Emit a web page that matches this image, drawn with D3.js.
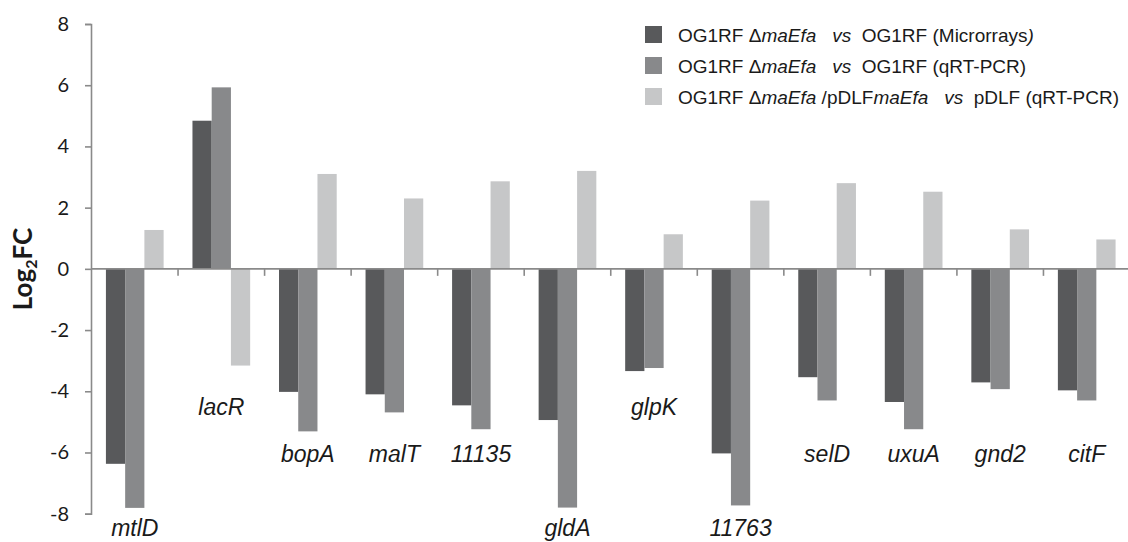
<!DOCTYPE html>
<html><head><meta charset="utf-8">
<script src="https://cdn.jsdelivr.net/npm/d3@7"></script>
<style>
html,body{margin:0;padding:0;background:#fff;}
svg text{white-space:pre;}
</style>
</head><body>
<svg id="chart" width="1128" height="542"></svg>
<script>
const categories = ["mtlD","lacR","bopA","malT","11135","gldA","glpK","11763","selD","uxuA","gnd2","citF"];
const microarray = [-6.37, 4.84, -4.02, -4.10, -4.46, -4.94, -3.34, -6.03, -3.54, -4.35, -3.71, -3.97];
const qrtpcr     = [-7.81, 5.93, -5.31, -4.69, -5.24, -7.80, -3.24, -7.73, -4.30, -5.24, -3.93, -4.30];
const complemented = [1.27, -3.16, 3.10, 2.30, 2.86, 3.20, 1.13, 2.23, 2.80, 2.52, 1.29, 0.96];
// label baseline level, in Log2FC units
const labelLevel = [-8.72, -4.78, -6.31, -6.31, -6.31, -8.72, -4.78, -8.72, -6.31, -6.31, -6.31, -6.31];
const yTicks = [-8, -6, -4, -2, 0, 2, 4, 6, 8];
const seriesKeys = ["micro","qpcr","comp"];
const seriesValues = {micro: microarray, qpcr: qrtpcr, comp: complemented};
const legendLabels = [
  [["OG1RF Δ",false],["maEfa",true],["   ",false],["vs",true],["  OG1RF (Microrrays",false],[")",true]],
  [["OG1RF Δ",false],["maEfa",true],["   ",false],["vs",true],["  OG1RF (qRT-PCR)",false]],
  [["OG1RF Δ",false],["maEfa",true],[" /pDLF",false],["maEfa",true],["   ",false],["vs",true],["  pDLF (qRT-PCR)",false]]
];
const colors = {micro:"#58595b", qpcr:"#88898b", comp:"#c6c7c8"};

const svg = d3.select("#chart");
const axisColor = "#8a8a8a";

const x = d3.scaleBand().domain(categories).range([91.5, 1130]).paddingInner(0).paddingOuter(0);
const xs = d3.scaleBand().domain(seriesKeys).range([x.bandwidth()/6, x.bandwidth()*5/6]).padding(0);
const y = d3.scaleLinear().domain([-8, 8]).range([513.7, 24]);

// bars
const data = categories.map((c,i)=>({cat:c, vals: seriesKeys.map(k=>({key:k, v:seriesValues[k][i]}))}));
const g = svg.append("g");
const groups = g.selectAll("g.grp").data(data).join("g")
  .attr("transform", d=>`translate(${x(d.cat)},0)`);
groups.selectAll("rect").data(d=>d.vals).join("rect")
  .attr("x", d=>xs(d.key))
  .attr("width", xs.bandwidth())
  .attr("y", d=>Math.min(y(d.v), y(0)))
  .attr("height", d=>Math.abs(y(d.v)-y(0)))
  .attr("fill", d=>colors[d.key]);

// y axis
const yAxis = d3.axisLeft(y).tickValues(yTicks).tickSize(6).tickPadding(16).tickFormat(d3.format("d"));
const ya = svg.append("g").attr("transform","translate(91,0)").call(yAxis);
ya.select(".domain").attr("stroke", axisColor).attr("stroke-width",1.6);
ya.selectAll(".tick line").attr("stroke", axisColor).attr("stroke-width",1.6);
ya.selectAll(".tick text").attr("fill","#1a1a1a").style("font-family","Lato, 'Open Sans', sans-serif").style("font-size","20px")
  .text(d=> d<0 ? "-"+Math.abs(d) : d);

// x axis (zero line) with category boundary ticks
const xAxis = d3.axisBottom(x).tickSize(0).tickFormat("");
const xa = svg.append("g").attr("transform",`translate(0,${y(0)})`).call(xAxis);
xa.select(".domain").attr("stroke", axisColor).attr("stroke-width",1.6).attr("d", `M91,0H1128`);
xa.selectAll(".tick").remove();
xa.selectAll("line.bt").data(categories.slice(1)).join("line")
  .attr("class","bt")
  .attr("x1", d=>x(d)).attr("x2", d=>x(d))
  .attr("y1", 0).attr("y2", 7)
  .attr("stroke", axisColor).attr("stroke-width",1.6);

// category labels
svg.append("g").selectAll("text").data(categories).join("text")
  .attr("x", d=>x(d)+x.bandwidth()/2)
  .attr("y", (d,i)=>y(labelLevel[i]))
  .attr("text-anchor","middle")
  .style("font-family","'Liberation Sans', Arial, sans-serif")
  .style("font-style","italic")
  .style("font-size","23px")
  .attr("fill","#1a1a1a")
  .text(d=>d);

// y axis title
const yt = svg.append("text")
  .attr("transform","translate(32,269) rotate(-90)")
  .attr("text-anchor","middle")
  .style("font-family","Lato, 'Open Sans', sans-serif")
  .style("font-weight","bold")
  .style("font-size","26px")
  .attr("fill","#1a1a1a");
yt.append("tspan").text("Log");
yt.append("tspan").text("2").style("font-size","16px").attr("dy","5");
yt.append("tspan").text("FC").attr("dy","-5");

// legend
const lg = svg.append("g");
const rows = lg.selectAll("g").data(seriesKeys).join("g")
  .attr("transform",(d,i)=>`translate(645,${26 + i*31})`);
rows.append("rect").attr("width",17).attr("height",17).attr("fill",d=>colors[d]);
rows.append("text")
  .attr("x",33).attr("y",16)
  .style("font-family","'Liberation Sans', Arial, sans-serif")
  .style("font-size","19px")
  .attr("fill","#1a1a1a")
  .each(function(d,i){
    d3.select(this).selectAll("tspan").data(legendLabels[i]).join("tspan")
      .style("font-style", s=>s[1]?"italic":"normal")
      .text(s=>s[0]);
  });
</script>
</body></html>
